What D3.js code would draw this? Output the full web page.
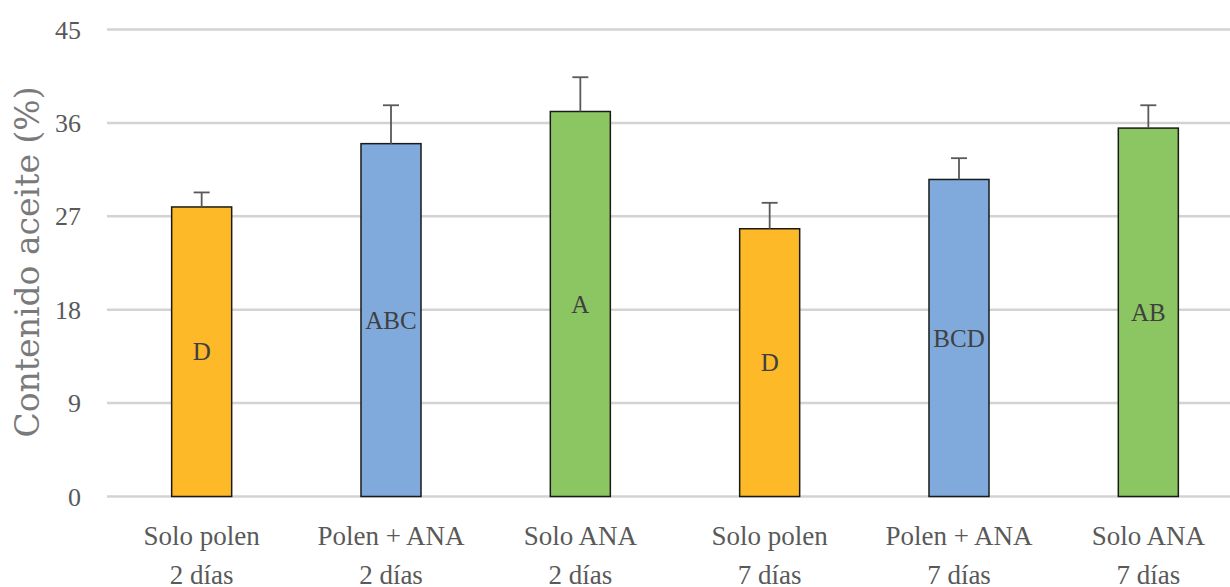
<!DOCTYPE html>
<html>
<head>
<meta charset="utf-8">
<script src="https://cdn.jsdelivr.net/npm/d3@7"></script>
<style>
  body { margin: 0; background: #fff; }
  svg { display: block; }
</style>
</head>
<body>
<svg id="chart" width="1230" height="587"></svg>
<script>
var categories = ["Solo polen|2 días", "Polen + ANA|2 días", "Solo ANA|2 días",
                  "Solo polen|7 días", "Polen + ANA|7 días", "Solo ANA|7 días"];
var values = [27.9, 34.0, 37.1, 25.8, 30.55, 35.5];
var errors = [1.4, 3.7, 3.3, 2.5, 2.05, 2.2];
var letters = ["D", "ABC", "A", "D", "BCD", "AB"];
var groups = ["polen", "mix", "ana", "polen", "mix", "ana"];
var yTicks = [0, 9, 18, 27, 36, 45];

var color = d3.scaleOrdinal()
    .domain(["polen", "mix", "ana"])
    .range(["#fdb927", "#7faadb", "#8bc663"]);

var svg = d3.select("#chart"),
    plotLeft = 107, plotRight = 1243, plotTop = 29.5, plotBottom = 496.5;

var x = d3.scaleBand()
    .domain(d3.range(categories.length))
    .range([plotLeft, plotRight])
    .paddingInner(0.683)
    .paddingOuter(0.3415);

var y = d3.scaleLinear().domain([0, 45]).range([plotBottom, plotTop]);

// gridlines
svg.append("g")
    .selectAll("line")
    .data(yTicks)
    .enter().append("line")
    .attr("x1", plotLeft).attr("x2", 1230)
    .attr("y1", function(d) { return y(d); })
    .attr("y2", function(d) { return y(d); })
    .attr("stroke", "#d3d3d3")
    .attr("stroke-width", 2.5);

// y axis tick labels
var yAxis = d3.axisLeft(y).tickValues(yTicks).tickSize(0).tickPadding(0);
var ya = svg.append("g").attr("transform", "translate(81,0)").call(yAxis);
ya.select(".domain").remove();
ya.selectAll("text")
    .attr("font-family", "Liberation Serif, Times New Roman, serif")
    .attr("font-size", 26)
    .attr("fill", "#595959")
    .attr("dy", "0.33em");

// bars
svg.append("g")
    .selectAll("rect")
    .data(values)
    .enter().append("rect")
    .attr("x", function(d, i) { return x(i); })
    .attr("y", function(d) { return y(d); })
    .attr("width", x.bandwidth())
    .attr("height", function(d) { return y(0) - y(d); })
    .attr("fill", function(d, i) { return color(groups[i]); })
    .attr("stroke", "#1a1a1a")
    .attr("stroke-width", 1.5);

// error bars
var eb = svg.append("g").attr("stroke", "#595959").attr("stroke-width", 1.8);
values.forEach(function(v, i) {
    var cx = x(i) + x.bandwidth() / 2;
    eb.append("line")
        .attr("x1", cx).attr("x2", cx)
        .attr("y1", y(v)).attr("y2", y(v + errors[i]));
    eb.append("line")
        .attr("x1", cx - 8).attr("x2", cx + 8)
        .attr("y1", y(v + errors[i])).attr("y2", y(v + errors[i]));
});

// letters in the middle of each bar
svg.append("g")
    .selectAll("text")
    .data(values)
    .enter().append("text")
    .attr("x", function(d, i) { return x(i) + x.bandwidth() / 2; })
    .attr("y", function(d) { return (y(d) + y(0)) / 2; })
    .attr("dy", "0.35em")
    .attr("text-anchor", "middle")
    .attr("font-family", "Liberation Serif, Times New Roman, serif")
    .attr("font-size", 25)
    .attr("fill", "#404040")
    .text(function(d, i) { return letters[i]; });

// category labels, two lines
var xl = svg.append("g");
categories.forEach(function(c, i) {
    var parts = c.split("|");
    var t = xl.append("text")
        .attr("x", x(i) + x.bandwidth() / 2)
        .attr("text-anchor", "middle")
        .attr("font-family", "Liberation Serif, Times New Roman, serif")
        .attr("font-size", 27)
        .attr("fill", "#595959");
    t.append("tspan").attr("x", x(i) + x.bandwidth() / 2).attr("y", 545).text(parts[0]);
    t.append("tspan").attr("x", x(i) + x.bandwidth() / 2).attr("y", 584).text(parts[1]);
});

// y axis title
svg.append("text")
    .attr("transform", "translate(39,262) rotate(-90)")
    .attr("text-anchor", "middle")
    .attr("font-family", "DejaVu Serif, serif")
    .attr("font-size", 33)
    .attr("fill", "#7a7a7a")
    .text("Contenido aceite (%)");
</script>
</body>
</html>
